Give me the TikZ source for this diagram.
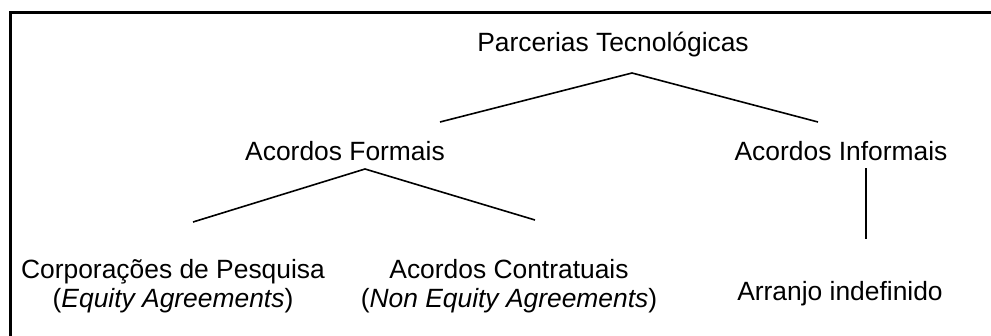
\documentclass[tikz,border=0pt]{standalone}
\usepackage{fontspec}
\setmainfont{Liberation Sans}
\begin{document}
\begin{tikzpicture}[x=1pt,y=-1pt,
  lbl/.style={inner sep=0pt,anchor=base,align=center,font=\fontsize{26.4}{29}\selectfont},
  conn/.style={line width=1.6pt},
  frame/.style={line width=3pt}]
\useasboundingbox (0,0) rectangle (991,335);
% frame (open on right and bottom)
\coordinate (frBL) at (10.5,345);
\coordinate (frTL) at (10.5,12);
\coordinate (frTR) at (1000,12);
\draw[frame] (frBL) -- (frTL) -- (frTR);
% nodes
\node[lbl] (par) at (613,51) {Parcerias Tecnológicas};
\node[lbl] (form) at (345,160) {Acordos Formais};
\node[lbl] (inf) at (841,160) {Acordos Informais};
\node[lbl] (corp) at (173,307) {Corporações de Pesquisa\\(\textit{Equity Agreements})};
\node[lbl] (contr) at (509,307) {Acordos Contratuais\\(\textit{Non Equity Agreements})};
\node[lbl] (arr) at (840,300) {Arranjo indefinido};
% connector points
\coordinate (parApex) at (632,73);
\coordinate (formTop) at (440,122);
\coordinate (infTop) at (818,122);
\coordinate (formApex) at (365,169);
\coordinate (corpTop) at (193,222);
\coordinate (contrTop) at (535,220);
\coordinate (infBot) at (866,168);
\coordinate (arrTop) at (866,239);
\draw[conn] (formTop) -- (parApex) -- (infTop);
\draw[conn] (corpTop) -- (formApex) -- (contrTop);
\draw[conn] (infBot) -- (arrTop);
\end{tikzpicture}
\end{document}
